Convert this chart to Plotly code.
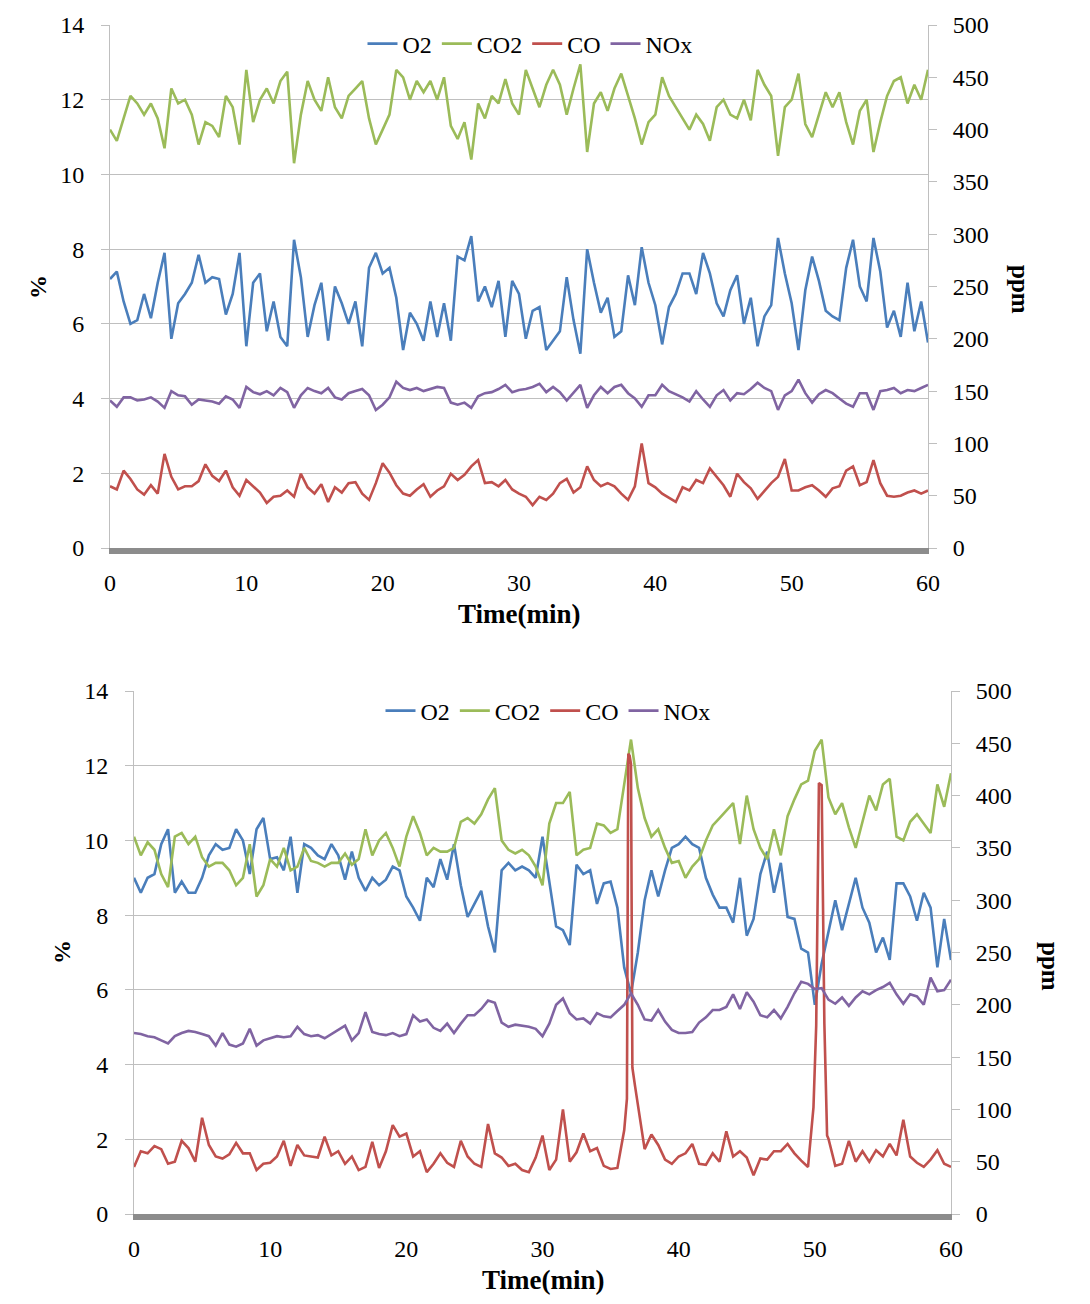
import numpy as np
import plotly.graph_objects as go

# ---------------- data (time in minutes, 0.5-min samples) ----------------
t = [round(0.5 * i, 1) for i in range(121)]

# Top chart: O2, CO2 in %, CO and NOx in ppm
top_co2 = [11.2, 10.9, 11.5, 12.1, 11.9, 11.6, 11.9, 11.5, 10.7, 12.3,
           11.9, 12.0, 11.6, 10.8, 11.4, 11.3, 11.0, 12.1, 11.8, 10.8,
           12.8, 11.4, 12.0, 12.3, 11.9, 12.5, 12.75, 10.3, 11.6, 12.5,
           12.0, 11.7, 12.6, 11.8, 11.5, 12.1, 12.3, 12.5, 11.5, 10.8,
           11.2, 11.6, 12.8, 12.6, 12.0, 12.5, 12.2, 12.5, 12.0, 12.6,
           11.3, 10.95, 11.4, 10.4, 11.9, 11.5, 12.1, 11.9, 12.55, 11.9,
           11.6, 12.8, 12.3, 11.8, 12.4, 12.8, 12.4, 11.6, 12.3, 12.95,
           10.6, 11.9, 12.2, 11.7, 12.3, 12.7, 12.1, 11.5, 10.8, 11.4,
           11.6, 12.6, 12.1, 11.8, 11.5, 11.2, 11.6, 11.35, 10.9, 11.8,
           12.0, 11.6, 11.5, 12.0, 11.45, 12.8, 12.4, 12.1, 10.5, 11.8,
           12.0, 12.7, 11.35, 11.0, 11.6, 12.2, 11.8, 12.2, 11.4, 10.8,
           11.7, 12.0, 10.6, 11.4, 12.1, 12.5, 12.6, 11.9, 12.4, 12.0,
           12.8]
top_o2 = [7.2, 7.4, 6.6, 6.0, 6.1, 6.8, 6.15, 7.1, 7.9, 5.6,
          6.55, 6.8, 7.1, 7.85, 7.1, 7.25, 7.2, 6.25, 6.8, 7.9,
          5.4, 7.1, 7.35, 5.8, 6.6, 5.65, 5.4, 8.25, 7.25, 5.65,
          6.5, 7.1, 5.55, 7.0, 6.55, 6.0, 6.6, 5.4, 7.5, 7.9,
          7.35, 7.5, 6.7, 5.3, 6.3, 6.0, 5.55, 6.6, 5.65, 6.55,
          5.55, 7.8, 7.7, 8.35, 6.6, 7.0, 6.45, 7.15, 5.65, 7.15,
          6.8, 5.6, 6.35, 6.45, 5.3, 5.55, 5.8, 7.25, 6.1, 5.2,
          8.0, 7.1, 6.3, 6.7, 5.65, 5.8, 7.3, 6.5, 8.05, 7.1,
          6.5, 5.45, 6.45, 6.8, 7.35, 7.35, 6.8, 7.9, 7.35, 6.55,
          6.2, 6.9, 7.3, 6.0, 6.7, 5.4, 6.2, 6.5, 8.3, 7.35,
          6.55, 5.3, 6.9, 7.8, 7.15, 6.35, 6.2, 6.1, 7.5, 8.25,
          7.0, 6.6, 8.3, 7.4, 5.9, 6.35, 5.65, 7.1, 5.8, 6.6,
          5.5]
top_nox = [141, 135, 144, 144, 141, 142, 144, 140, 134, 150,
           146, 145, 137, 142, 141, 140, 138, 145, 142, 134,
           154, 149, 147, 150, 146, 153, 149, 134, 146, 153,
           150, 148, 153, 144, 142, 148, 150, 152, 146, 132,
           137, 144, 159, 153, 151, 153, 150, 152, 154, 153,
           139, 137, 139, 134, 145, 148, 149, 152, 156, 149,
           151, 152, 154, 157, 149, 154, 149, 141, 148, 156,
           134, 146, 154, 148, 154, 156, 148, 143, 135, 146,
           146, 156, 150, 147, 144, 140, 150, 142, 135, 146,
           151, 141, 148, 147, 152, 158, 153, 150, 132, 146,
           150, 161, 148, 139, 147, 151, 148, 143, 138, 135,
           148, 148, 132, 150, 151, 153, 148, 151, 150, 153,
           156]
top_co = [59, 56, 74, 66, 56, 51, 60, 52, 90, 68,
          56, 59, 59, 64, 80, 69, 64, 74, 58, 50,
          65, 59, 53, 43, 49, 50, 55, 49, 71, 58,
          52, 61, 44, 58, 53, 62, 63, 52, 46, 62,
          81, 72, 60, 52, 50, 56, 61, 49, 55, 59,
          71, 65, 70, 78, 84, 62, 63, 59, 65, 56,
          52, 49, 41, 49, 46, 52, 62, 66, 53, 58,
          78, 65, 59, 62, 59, 52, 46, 59, 100, 62,
          58, 52, 48, 44, 58, 55, 65, 62, 76, 68,
          60, 49, 71, 63, 57, 47, 55, 62, 68, 85,
          55, 55, 58, 60, 55, 49, 57, 59, 74, 78,
          60, 63, 84, 62, 50, 49, 50, 53, 55, 52,
          55]

# Bottom chart
bot_o2 = [9.0, 8.6, 9.0, 9.1, 9.9, 10.3, 8.6, 8.9, 8.6, 8.6,
          9.0, 9.6, 9.9, 9.75, 9.8, 10.3, 10.0, 9.1, 10.3, 10.6,
          9.5, 9.55, 9.2, 10.1, 8.6, 9.9, 9.8, 9.6, 9.5, 9.9,
          9.6, 8.95, 9.7, 9.0, 8.65, 9.0, 8.8, 8.95, 9.3, 9.2,
          8.5, 8.2, 7.85, 9.0, 8.75, 9.5, 8.95, 9.9, 8.8, 7.95,
          8.3, 8.65, 7.7, 7.0, 9.2, 9.4, 9.2, 9.3, 9.2, 9.0,
          10.1, 8.85, 7.7, 7.6, 7.2, 9.35, 9.1, 9.2, 8.3, 8.85,
          8.9, 8.2, 6.6, 5.9, 7.0, 8.4, 9.2, 8.5, 9.2, 9.8,
          9.9, 10.1, 9.9, 9.8, 9.0, 8.55, 8.2, 8.2, 7.8, 9.0,
          7.45, 7.9, 9.1, 9.7, 8.6, 9.4, 7.95, 7.9, 7.1, 7.0,
          5.6, 6.7, 7.6, 8.4, 7.6, 8.3, 9.0, 8.2, 7.8, 7.0,
          7.4, 6.8, 8.85, 8.85, 8.5, 7.85, 8.6, 8.2, 6.6, 7.9,
          6.8]
bot_co2 = [10.1, 9.6, 9.95, 9.75, 9.1, 8.75, 10.1, 10.2, 9.9, 10.1,
           9.55, 9.3, 9.4, 9.4, 9.2, 8.8, 9.0, 9.9, 8.5, 8.8,
           9.5, 9.3, 9.8, 9.2, 9.3, 9.8, 9.45, 9.4, 9.3, 9.4,
           9.4, 9.65, 9.35, 9.5, 10.3, 9.6, 10.0, 10.2, 9.8, 9.3,
           10.1, 10.65, 10.2, 9.6, 9.8, 9.7, 9.7, 9.8, 10.5, 10.6,
           10.45, 10.7, 11.1, 11.4, 10.0, 9.75, 9.65, 9.75, 9.6, 9.3,
           8.8, 10.45, 11.0, 11.0, 11.3, 9.6, 9.75, 9.8, 10.45, 10.4,
           10.2, 10.3, 11.5, 12.7, 11.4, 10.6, 10.1, 10.3, 9.8, 9.4,
           9.45, 9.0, 9.3, 9.5, 10.0, 10.4, 10.6, 10.8, 11.0, 9.9,
           11.2, 10.3, 9.8, 9.5, 10.3, 9.6, 10.65, 11.1, 11.5, 11.6,
           12.4, 12.7, 11.15, 10.7, 11.0, 10.35, 9.8, 10.5, 11.2, 10.8,
           11.5, 11.65, 10.1, 10.0, 10.5, 10.7, 10.45, 10.2, 11.5, 10.9,
           11.8]
bot_nox = [173, 172, 170, 169, 166, 163, 170, 173, 175, 174,
           172, 170, 161, 173, 162, 160, 163, 177, 161, 166,
           168, 170, 169, 170, 179, 172, 170, 171, 168, 172,
           176, 180, 166, 173, 193, 174, 172, 171, 173, 170,
           172, 190, 184, 186, 178, 175, 182, 173, 182, 190,
           190, 196, 204, 202, 183, 179, 181, 180, 179, 177,
           170, 182, 200, 206, 192, 186, 187, 182, 192, 189,
           188, 194, 200, 211, 200, 186, 185, 195, 184, 176,
           173, 173, 174, 183, 188, 195, 195, 198, 210, 196,
           212, 203, 190, 188, 195, 187, 198, 211, 222, 220,
           215, 216, 205, 201, 207, 199, 207, 213, 210, 214,
           217, 221, 210, 201, 210, 208, 200, 226, 213, 214,
           224]
bot_co = [45, 60, 58, 65, 62, 48, 50, 70, 63, 50,
          92, 66, 55, 53, 57, 68, 58, 58, 42, 48,
          49, 55, 70, 46, 66, 56, 55, 54, 74, 56,
          60, 48, 55, 42, 45, 69, 44, 60, 85, 74,
          77, 55, 60, 40, 48, 58, 49, 45, 70, 55,
          48, 45, 86, 58, 54, 46, 48, 42, 40, 54,
          75, 42, 52, 100, 50, 59, 77, 60, 63, 46,
          43, 44, 80, 430, 105, 62, 76, 66, 52, 48,
          55, 58, 67, 48, 47, 58, 50, 79, 55, 60,
          54, 37, 53, 52, 60, 60, 67, 58, 51, 45,
          140, 410, 72, 46, 48, 70, 50, 60, 50, 61,
          55, 67, 56, 90, 55, 49, 45, 52, 61, 48,
          45]
# extra CO readings around the two short spikes
bot_co_spike_t = [36.2, 36.3, 36.4, 36.6, 36.8, 49.9, 50.1, 50.3, 50.7, 50.9]
bot_co_spike_v = [110, 440, 438, 140, 122, 102, 180, 412, 182, 75]

for arr in (top_co2, top_o2, top_nox, top_co, bot_o2, bot_co2, bot_nox, bot_co):
    assert len(arr) == len(t), len(arr)

pairs = sorted(list(zip(t, bot_co)) + list(zip(bot_co_spike_t, bot_co_spike_v)))
bot_co_t = [p[0] for p in pairs]
bot_co_v = [p[1] for p in pairs]

y_ticks_pct = list(range(0, 15, 2))
y_ticks_ppm = list(range(0, 501, 50))
x_ticks = list(range(0, 61, 10))

# ---------------- figure ----------------
W, H = 1090, 1304
C_O2, C_CO2, C_CO, C_NOX = "#4A7EBB", "#9BBB59", "#C0504D", "#8064A2"
SERIF = "Liberation Serif"
tick_font = dict(family=SERIF, size=24, color="black")
LW = 2.6

fig = go.Figure()

def add(x, y, name, color, xa, ya, leg):
    fig.add_trace(go.Scatter(x=x, y=y, name=name, mode="lines",
                             line=dict(color=color, width=LW),
                             xaxis=xa, yaxis=ya, legend=leg,
                             hoverinfo="skip"))

add(t, top_o2, "O2", C_O2, "x", "y", "legend")
add(t, top_co2, "CO2", C_CO2, "x", "y", "legend")
add(t, top_co, "CO", C_CO, "x", "y2", "legend")
add(t, top_nox, "NOx", C_NOX, "x", "y2", "legend")

add(t, bot_o2, "O2", C_O2, "x2", "y3", "legend2")
add(t, bot_co2, "CO2", C_CO2, "x2", "y3", "legend2")
add(bot_co_t, bot_co_v, "CO", C_CO, "x2", "y4", "legend2")
add(t, bot_nox, "NOx", C_NOX, "x2", "y4", "legend2")

def xaxis(dom, anchor):
    return dict(domain=dom, anchor=anchor, range=[0, 60], tickvals=x_ticks,
                showgrid=False, zeroline=False, showline=True,
                linecolor="#8C8C8C", linewidth=6, ticks="",
                tickfont=tick_font, ticklabelstandoff=8, automargin=False)

def yleft(dom, anchor):
    return dict(domain=dom, anchor=anchor, range=[0, 14], tickvals=y_ticks_pct,
                showgrid=True, gridcolor="#BFBFBF", gridwidth=1, zeroline=False,
                showline=True, linecolor="#BFBFBF", linewidth=1,
                ticks="outside", ticklen=8, tickcolor="#BFBFBF",
                tickfont=tick_font, ticklabelstandoff=12, automargin=False)

def yright(over, anchor):
    return dict(overlaying=over, side="right", anchor=anchor, range=[0, 500],
                tickvals=y_ticks_ppm, showgrid=False, zeroline=False,
                showline=True, linecolor="#BFBFBF", linewidth=1,
                ticks="outside", ticklen=8, tickcolor="#BFBFBF",
                tickfont=tick_font, ticklabelstandoff=11, automargin=False)

top_x = [110 / W, 928 / W]
top_y = [1 - 548 / H, 1 - 25 / H]
bot_x = [134 / W, 951 / W]
bot_y = [1 - 1214 / H, 1 - 691 / H]

leg_common = dict(orientation="h", xanchor="center", yanchor="middle",
                  font=dict(family=SERIF, size=24, color="black"),
                  bgcolor="rgba(0,0,0,0)", itemwidth=30)

fig.update_layout(
    width=W, height=H, margin=dict(l=0, r=0, t=0, b=0, autoexpand=False),
    paper_bgcolor="white", plot_bgcolor="white",
    xaxis=xaxis(top_x, "y"), yaxis=yleft(top_y, "x"), yaxis2=yright("y", "x"),
    xaxis2=xaxis(bot_x, "y3"), yaxis3=yleft(bot_y, "x2"), yaxis4=yright("y3", "x2"),
    legend=dict(x=530 / W, y=1 - 44 / H, **leg_common),
    legend2=dict(x=548 / W, y=1 - 711 / H, **leg_common),
    showlegend=True,
)

def ann(text, px, py, size, angle=0):
    fig.add_annotation(text=text, x=px / W, y=1 - py / H, xref="paper", yref="paper",
                       xanchor="center", yanchor="middle", showarrow=False,
                       textangle=angle, font=dict(family=SERIF, size=size, color="black"))

ann("<b>Time(min)</b>", 519, 614, 27)
ann("<b>Time(min)</b>", 543, 1280, 27)
ann("<b>%</b>", 38, 287, 24, -90)
ann("<b>%</b>", 62, 952, 24, -90)
ann("<b>ppm</b>", 1021, 289, 25, 90)
ann("<b>ppm</b>", 1051, 966, 25, 90)

fig.write_html("out.html", config={"displayModeBar": False},
               post_script="document.body.style.margin='0px';")
